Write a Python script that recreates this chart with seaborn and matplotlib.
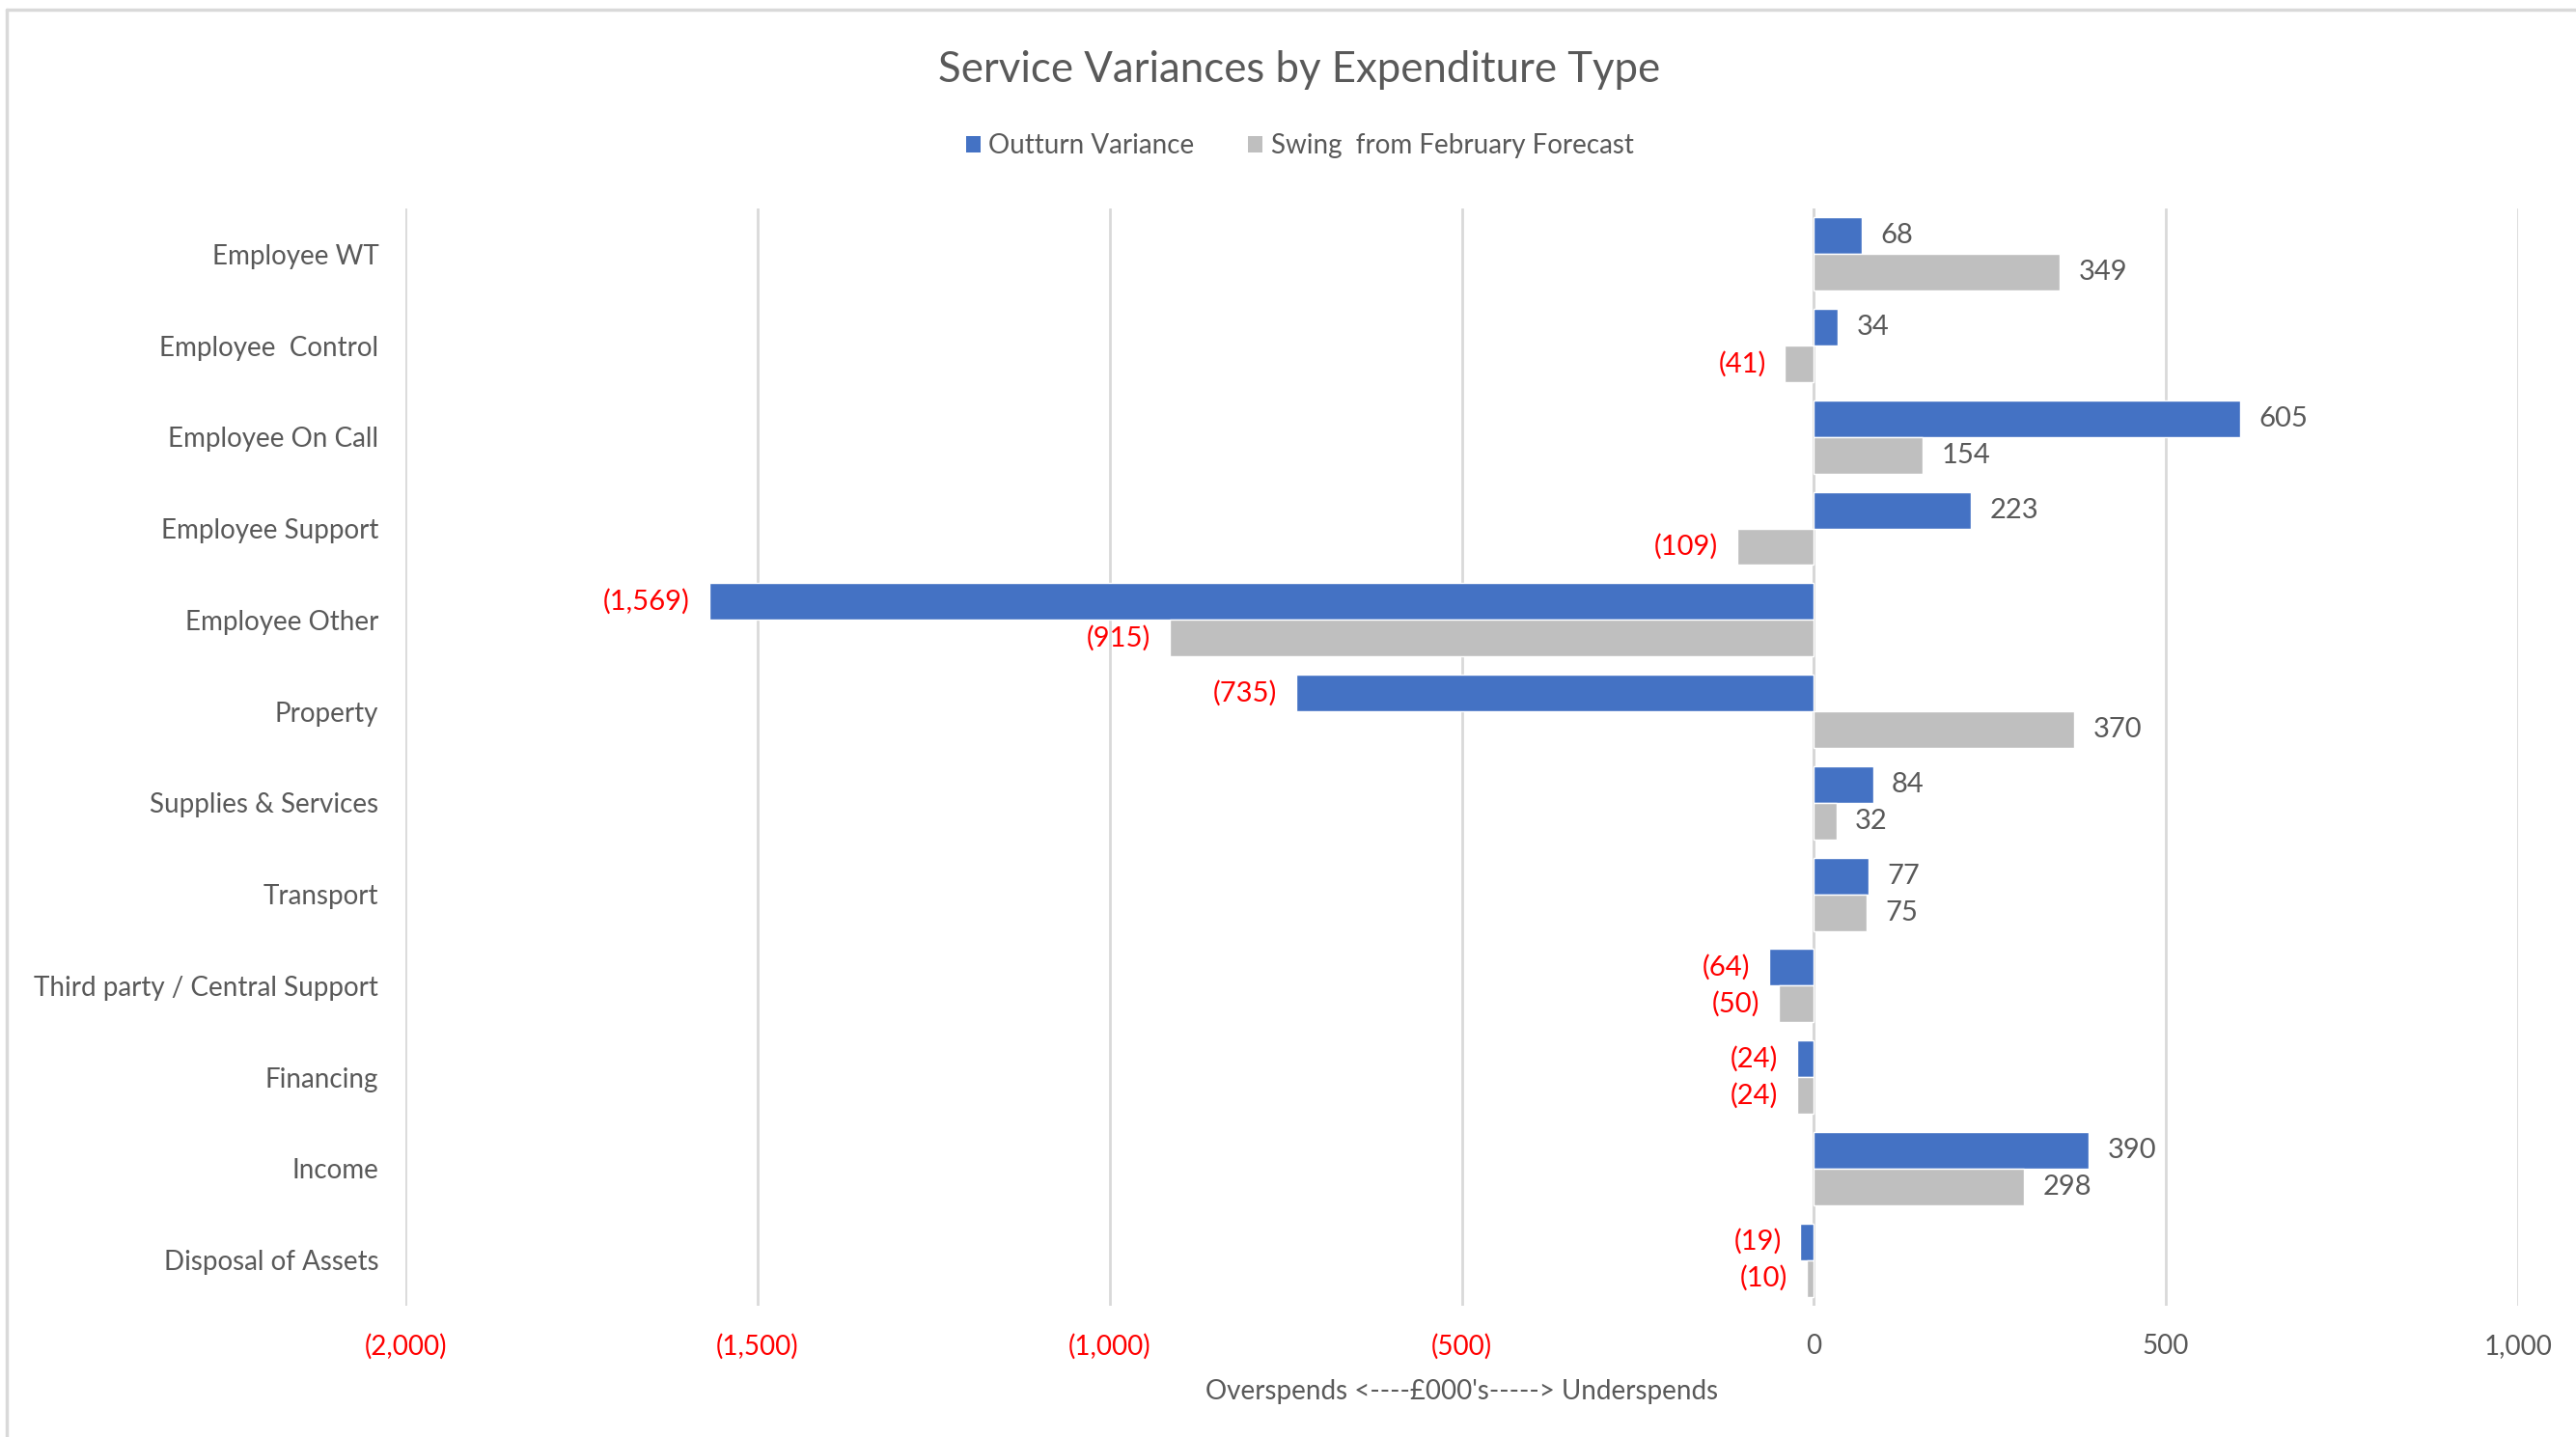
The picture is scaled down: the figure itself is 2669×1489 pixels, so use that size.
import matplotlib
matplotlib.use("Agg")
import matplotlib.pyplot as plt
import seaborn as sns
import pandas as pd
from matplotlib.lines import Line2D
from matplotlib.patches import Patch

categories = ["Employee WT", "Employee  Control", "Employee On Call", "Employee Support",
              "Employee Other", "Property", "Supplies & Services", "Transport",
              "Third party / Central Support", "Financing", "Income", "Disposal of Assets"]
outturn = [68, 34, 605, 223, -1569, -735, 84, 77, -64, -24, 390, -19]
swing = [349, -41, 154, -109, -915, 370, 32, 75, -50, -24, 298, -10]
series_names = ["Outturn Variance", "Swing  from February Forecast"]
xticks = [-2000, -1500, -1000, -500, 0, 500, 1000]

df = pd.DataFrame({
    "category": categories * 2,
    "value": outturn + swing,
    "series": [series_names[0]] * len(categories) + [series_names[1]] * len(categories),
})

sns.set_theme(style="white")
plt.rcParams["font.family"] = ["Lato", "DejaVu Sans"]

TXT = "#595959"
RED = "#FF0000"
BLUE = "#4472C4"
GREY = "#BFBFBF"

fig = plt.figure(figsize=(26.69, 14.89), dpi=100)
ax = fig.add_axes([0.1574, 0.0913, 0.9775 - 0.1574, 0.855 - 0.0913])

sns.barplot(data=df, y="category", x="value", hue="series", order=categories,
            hue_order=series_names, palette=[BLUE, GREY], orient="h",
            width=0.8, dodge=True, ax=ax, legend=False, saturation=1)

ax.set_xlim(-2000, 1000)
ax.set_ylim(len(categories) - 0.5, -0.5)
ax.set_xticks(xticks)

def fmt(v):
    if v < 0:
        return "({:,})".format(-v)
    return "{:,}".format(v)

ax.set_xticklabels([fmt(v) for v in xticks], fontsize=20)
for lbl, v in zip(ax.get_xticklabels(), xticks):
    lbl.set_color(RED if v < 0 else TXT)
ax.tick_params(axis="x", length=0, pad=21)
ax.tick_params(axis="y", length=0, pad=20, labelsize=20, labelcolor=TXT)
ax.set_ylabel("")
ax.set_xlabel("Overspends <----£000's-----> Underspends", fontsize=20, color=TXT, labelpad=14)

ax.grid(axis="x", color="#D9D9D9", linewidth=2)
ax.set_axisbelow(True)
for s in ax.spines.values():
    s.set_visible(False)
ax.axvline(0, color="#BFBFBF", linewidth=2, zorder=0.5)

# data labels
for container, vals in zip(ax.containers, [outturn, swing]):
    for bar, v in zip(container, vals):
        y = bar.get_y() + bar.get_height() / 2
        if v >= 0:
            ax.annotate(fmt(v), (v, y), xytext=(14, 0), textcoords="offset points",
                        ha="left", va="center", fontsize=21, color=TXT)
        else:
            ax.annotate(fmt(v), (v, y), xytext=(-14, 0), textcoords="offset points",
                        ha="right", va="center", fontsize=21, color=RED)

fig.text(0.5045, 0.951, "Service Variances by Expenditure Type", ha="center", va="center",
         fontsize=31.5, color=TXT)

handles = [Patch(facecolor=BLUE, edgecolor="none"), Patch(facecolor=GREY, edgecolor="none")]
fig.legend(handles, series_names, loc="center", bbox_to_anchor=(0.5045, 0.8985), ncol=2,
           frameon=False, fontsize=20, labelcolor=TXT, handlelength=0.55, handleheight=0.55,
           handletextpad=0.3, columnspacing=2.0)

# outer chart border
fig.add_artist(Line2D([7 / 2669, 1], [1 - 10 / 1489, 1 - 10 / 1489], transform=fig.transFigure,
                      color="#D9D9D9", linewidth=2.5))
fig.add_artist(Line2D([7 / 2669, 7 / 2669], [0, 1 - 10 / 1489], transform=fig.transFigure,
                      color="#D9D9D9", linewidth=2.5))

fig.savefig("out.png", dpi=100, facecolor="white")
